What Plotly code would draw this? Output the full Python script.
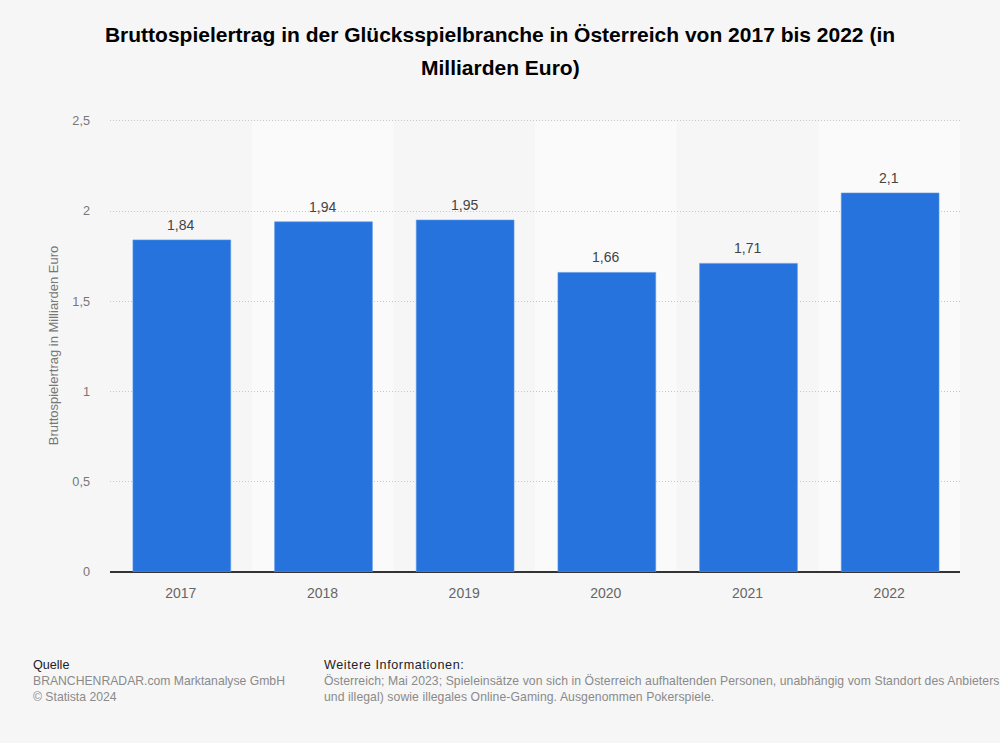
import plotly.graph_objects as go

jahre = ['2017', '2018', '2019', '2020', '2021', '2022']
ertrag = [1.84, 1.94, 1.95, 1.66, 1.71, 2.1]
labels = ['1,84', '1,94', '1,95', '1,66', '1,71', '2,1']
y_ticks = [0, 0.5, 1, 1.5, 2, 2.5]
y_labels = ['0', '0,5', '1', '1,5', '2', '2,5']

titel_1 = 'Bruttospielertrag in der Glücksspielbranche in Österreich von 2017 bis 2022 (in'
titel_2 = 'Milliarden Euro)'
quelle = 'BRANCHENRADAR.com Marktanalyse GmbH<br>© Statista 2024'
info = ('Österreich; Mai 2023; Spieleinsätze von sich in Österreich aufhaltenden Personen, '
        'unabhängig vom Standort des Anbieters<br>'
        'und illegal) sowie illegales Online-Gaming. Ausgenommen Pokerspiele.')

font = 'Liberation Sans'

fig = go.Figure()
fig.add_trace(go.Bar(x=jahre, y=ertrag,
                     width=0.69,
                     offset=-0.338,
                     marker=dict(color='#2673dd', line=dict(color='#5a94e6', width=0.6))))

# helle Streifen hinter jedem zweiten Jahr
for i in [1, 3, 5]:
    fig.add_shape(type='rect', xref='x', yref='y', x0=i-0.5, x1=i+0.5, y0=0, y1=2.5,
                  fillcolor='#fafafa', line_width=0, layer='below')

# Werte ueber den Balken; x als Index, '2017' wuerde als Position 2017 gelesen
for i, (wert, label) in enumerate(zip(ertrag, labels)):
    fig.add_annotation(x=i, y=wert, xref='x', yref='y', text=label, showarrow=False,
                       yanchor='bottom', yshift=5,
                       font=dict(family=font, size=14, color='#444444'))

fig.update_layout(width=1000, height=743,
                  margin=dict(l=110, r=40, t=119, b=171),
                  paper_bgcolor='#f6f6f6',
                  plot_bgcolor='#f6f6f6',
                  showlegend=False,
                  font=dict(family=font),
                  title=dict(text=titel_1, x=0.5, xanchor='center', y=0.954, yanchor='middle',
                             font=dict(family=font, size=21, color='#000000', weight=700)))

fig.update_xaxes(type='category', range=[-0.5, 5.5], showgrid=False, ticks='',
                 showline=False, zeroline=False,
                 tickfont=dict(family=font, size=14, color='#666666'), ticklabelstandoff=11)
# Bereich etwas ueber 2,5, sonst faellt die oberste Gitterlinie weg
fig.update_yaxes(range=[0, 2.51], tickvals=y_ticks, ticktext=y_labels,
                 showgrid=True, gridcolor='#c8c8c8', griddash='1px,2px', gridwidth=1,
                 zeroline=True, zerolinecolor='#333333', zerolinewidth=1.6,
                 showline=False, ticks='', ticklabelstandoff=19,
                 tickfont=dict(family=font, size=12.7, color='#777777'),
                 title=dict(text='Bruttospielertrag in Milliarden Euro', standoff=10,
                            font=dict(family=font, size=13, color='#777777')))

notes = [(500, 67, titel_2, '#000000', 21, 700, 'center'),
         (31, 665, 'Quelle', '#222222', 12.6, 400, 'left'),
         (31, 689, quelle, '#8a8a8a', 12.2, 400, 'left'),
         (322, 665, 'Weitere Informationen:', '#222222', 12.6, 400, 'left'),
         (322, 689, info, '#8a8a8a', 12.2, 400, 'left')]
for x, y, text, color, size, weight, anchor in notes:
    fig.add_annotation(text=text, xref='paper', yref='paper',
                       x=(x-110)/850, y=(572-y)/453,
                       xanchor=anchor, yanchor='middle', align=anchor, showarrow=False,
                       font=dict(family=font, size=size, color=color, weight=weight))

# Plotly kennt keine Laufweite, die Fussnoten sind im Original aber gesperrt
spacing = """
document.body.style.margin = '0';
document.querySelectorAll('.annotation-text').forEach(function (t) {
    if (t.textContent.startsWith('Weitere')) t.style.letterSpacing = '0.6px';
    if (t.textContent.startsWith('Österreich')) t.style.letterSpacing = '0.08px';
});
"""
fig.write_html("out.html", config={'displayModeBar': False}, post_script=spacing)
